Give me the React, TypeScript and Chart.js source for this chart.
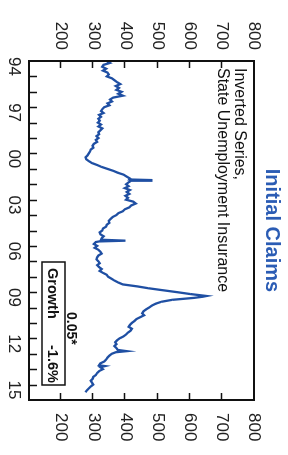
import React, { useEffect, useRef } from "react";
import { Chart, registerables } from "chart.js";

Chart.register(...registerables);

// Decimal year of each reading
const years: number[] = [
  1994.0, 1994.125, 1994.25, 1994.375, 1994.5, 1994.625, 1994.75, 1994.875,
  1995.0, 1995.125, 1995.25, 1995.375, 1995.5, 1995.625, 1995.75, 1995.875,
  1996.0, 1996.125, 1996.25, 1996.375, 1996.5, 1996.625, 1996.75, 1996.875,
  1997.0, 1997.125, 1997.25, 1997.375, 1997.5, 1997.625, 1997.75, 1997.875,
  1998.0, 1998.125, 1998.25, 1998.375, 1998.5, 1998.625, 1998.75, 1998.875,
  1999.0, 1999.125, 1999.25, 1999.375, 1999.5, 1999.625, 1999.75, 1999.875,
  2000.0, 2000.125, 2000.25, 2000.375, 2000.5, 2000.625, 2000.75, 2000.875,
  2001.0, 2001.125, 2001.25, 2001.375, 2001.5, 2001.625, 2001.69, 2001.73, 2001.77, 2001.875,
  2002.0, 2002.125, 2002.25, 2002.375, 2002.5, 2002.625, 2002.75, 2002.875,
  2003.0, 2003.125, 2003.25, 2003.375, 2003.5, 2003.625, 2003.75, 2003.875,
  2004.0, 2004.125, 2004.25, 2004.375, 2004.5, 2004.625, 2004.75, 2004.875,
  2005.0, 2005.125, 2005.25, 2005.375, 2005.5, 2005.6, 2005.66, 2005.71, 2005.75, 2005.875,
  2006.0, 2006.125, 2006.25, 2006.375, 2006.5, 2006.625, 2006.75, 2006.875,
  2007.0, 2007.125, 2007.25, 2007.375, 2007.5, 2007.625, 2007.75, 2007.875,
  2008.0, 2008.125, 2008.25, 2008.375, 2008.5, 2008.625, 2008.75, 2008.875,
  2009.0, 2009.125, 2009.25, 2009.3, 2009.375, 2009.5, 2009.625, 2009.75, 2009.875,
  2010.0, 2010.125, 2010.25, 2010.375, 2010.5, 2010.625, 2010.75, 2010.875,
  2011.0, 2011.125, 2011.25, 2011.375, 2011.5, 2011.625, 2011.75, 2011.875,
  2012.0, 2012.125, 2012.25, 2012.375, 2012.5, 2012.625, 2012.75, 2012.83, 2012.9,
  2013.0, 2013.125, 2013.25, 2013.375, 2013.5, 2013.625, 2013.75, 2013.8, 2013.875,
  2014.0, 2014.125, 2014.25, 2014.375, 2014.5, 2014.625, 2014.75, 2014.875,
  2015.0, 2015.125, 2015.25, 2015.375, 2015.5,
];

// Initial claims, thousands
const claims: number[] = [
  342, 352, 332, 328, 340, 330, 344, 348,
  342, 358, 366, 374, 384, 370, 380, 372,
  388, 378, 392, 362, 352, 358, 344, 350,
  334, 328, 324, 332, 318, 324, 316, 320,
  314, 324, 316, 328, 322, 316, 318, 310,
  316, 308, 312, 302, 298, 300, 292, 290,
  286, 282, 276, 278, 286, 296, 312, 326,
  344, 362, 376, 394, 404, 414, 412, 484, 418, 410,
  402, 410, 398, 414, 404, 412, 400, 408,
  402, 424, 432, 418, 412, 398, 392, 378,
  372, 360, 354, 348, 350, 342, 340, 330,
  328, 320, 322, 332, 326, 324, 400, 318, 308, 302,
  312, 304, 316, 322, 326, 316, 312, 310,
  316, 320, 312, 318, 326, 320, 330, 342,
  346, 356, 366, 378, 392, 436, 472, 516,
  560, 602, 652, 640, 612, 545, 512, 494, 482,
  474, 464, 456, 452, 458, 446, 434, 428,
  420, 414, 410, 420, 416, 408, 402, 394,
  382, 374, 368, 372, 366, 372, 376, 404, 370,
  358, 350, 344, 340, 334, 322, 318, 336, 322,
  330, 318, 312, 308, 300, 298, 292, 296,
  300, 292, 286, 280, 276,
];

const yearLabels: number[] = [1994, 1997, 2000, 2003, 2006, 2009, 2012, 2015];
const yearTicks: number[] = [
  1995, 1996, 1997, 1998, 1999, 2000, 2001, 2002, 2003, 2004, 2005,
  2006, 2007, 2008, 2009, 2010, 2011, 2012, 2013, 2014, 2015,
];
const valueLabels: number[] = [200, 300, 400, 500, 600, 700, 800];
const valueTicks: number[] = [200, 300, 400, 500, 600, 700];

const titleText = "Initial Claims";
const noteLines: string[] = ["Inverted Series,", "State Unemployment Insurance"];
const growthLabel = "Growth";
const growthValue = "-1.6%";
const sigText = "0.05*";

const W = 455;
const H = 288;
const FONT = "'Liberation Sans', Arial, Helvetica, sans-serif";
const LINE_BLUE = "#1f4fa3";
const TITLE_BLUE = "#2b5cb4";
const LABEL_SHIFT = 0.35; // year labels sit slightly after their tick

export default function App() {
  const ref = useRef<HTMLCanvasElement>(null);

  useEffect(() => {
    const canvas = ref.current;
    if (!canvas) return;

    const decor = {
      id: "decor",
      afterDraw(chart: any) {
        const ctx = chart.ctx as CanvasRenderingContext2D;
        const { left, right, top, bottom } = chart.chartArea;
        const xs = chart.scales.x;
        const ys = chart.scales.y;
        ctx.save();
        ctx.strokeStyle = "#111";
        ctx.lineWidth = 2;
        ctx.strokeRect(left, top, right - left, bottom - top);
        ctx.lineWidth = 1.5;
        ctx.beginPath();
        for (const v of valueTicks) {
          const py = Math.round(ys.getPixelForValue(v)) + 0.5;
          ctx.moveTo(left, py);
          ctx.lineTo(left + 7, py);
          ctx.moveTo(right, py);
          ctx.lineTo(right - 7, py);
        }
        for (const yv of yearTicks) {
          const px = Math.round(xs.getPixelForValue(yv)) + 0.5;
          ctx.moveTo(px, bottom);
          ctx.lineTo(px, bottom - 8);
        }
        ctx.stroke();

        ctx.fillStyle = TITLE_BLUE;
        ctx.font = `bold 20px ${FONT}`;
        ctx.textAlign = "center";
        ctx.textBaseline = "alphabetic";
        ctx.fillText(titleText, (left + right) / 2, 22);

        ctx.fillStyle = "#111";
        ctx.font = `16px ${FONT}`;
        ctx.textAlign = "left";
        ctx.fillText(noteLines[0], left + 7, 53);
        ctx.fillText(noteLines[1], left + 7, 69.5);

        ctx.lineWidth = 1.5;
        ctx.strokeRect(262, 223, 123, 23);
        ctx.font = `bold 14.5px ${FONT}`;
        ctx.fillText(growthLabel, 268, 240);
        ctx.fillText(growthValue, 345, 240);
        ctx.font = `bold 14px ${FONT}`;
        ctx.fillText(sigText, 312, 221);
        ctx.restore();
      },
    };

    const tickFont = { family: FONT, size: 17 };

    const chart = new Chart(canvas, {
      type: "line",
      data: {
        datasets: [
          {
            data: years.map((x, i) => ({ x, y: claims[i] })),
            borderColor: LINE_BLUE,
            borderWidth: 2.3,
            pointRadius: 0,
            tension: 0,
            yAxisID: "y",
          },
        ],
      },
      options: {
        animation: false,
        responsive: false,
        events: [],
        layout: { padding: { top: 34, left: 0, right: 0, bottom: 0 } },
        plugins: {
          legend: { display: false },
          tooltip: { enabled: false },
          title: { display: false },
        },
        scales: {
          x: {
            type: "linear",
            min: 1994,
            max: 2016,
            grid: { display: false, drawTicks: false },
            border: { display: false },
            afterBuildTicks: (s: any) => {
              s.ticks = yearLabels.map((v) => ({ value: v + LABEL_SHIFT }));
            },
            ticks: {
              callback: (v: any) => String(Math.floor(Number(v)) % 100).padStart(2, "0"),
              font: tickFont,
              color: "#222",
              padding: 5,
              maxRotation: 0,
              minRotation: 0,
              autoSkip: false,
            },
            afterFit: (s: any) => {
              s.height = 29;
            },
          },
          y: {
            type: "linear",
            position: "left",
            min: 100,
            max: 800,
            grid: { display: false, drawTicks: false },
            border: { display: false },
            afterBuildTicks: (s: any) => {
              s.ticks = valueLabels.map((v) => ({ value: v }));
            },
            ticks: { font: tickFont, color: "#222", padding: 11 },
            afterFit: (s: any) => {
              s.width = 61;
            },
          },
          y2: {
            type: "linear",
            position: "right",
            min: 100,
            max: 800,
            grid: { display: false, drawTicks: false },
            border: { display: false },
            afterBuildTicks: (s: any) => {
              s.ticks = valueLabels.map((v) => ({ value: v }));
            },
            ticks: { font: tickFont, color: "#222", padding: 13 },
            afterFit: (s: any) => {
              s.width = 55;
            },
          },
        },
      } as any,
      plugins: [decor],
    });

    return () => chart.destroy();
  }, []);

  return (
    <div
      style={{
        position: "fixed",
        left: 0,
        top: 0,
        width: 288,
        height: 455,
        overflow: "hidden",
        background: "#fff",
      }}
    >
      <div
        style={{
          position: "absolute",
          left: 0,
          top: 0,
          width: W,
          height: H,
          transformOrigin: "0 0",
          transform: "translateX(288px) rotate(90deg)",
        }}
      >
        <canvas ref={ref} width={W} height={H} style={{ display: "block", width: W, height: H }} />
      </div>
    </div>
  );
}
